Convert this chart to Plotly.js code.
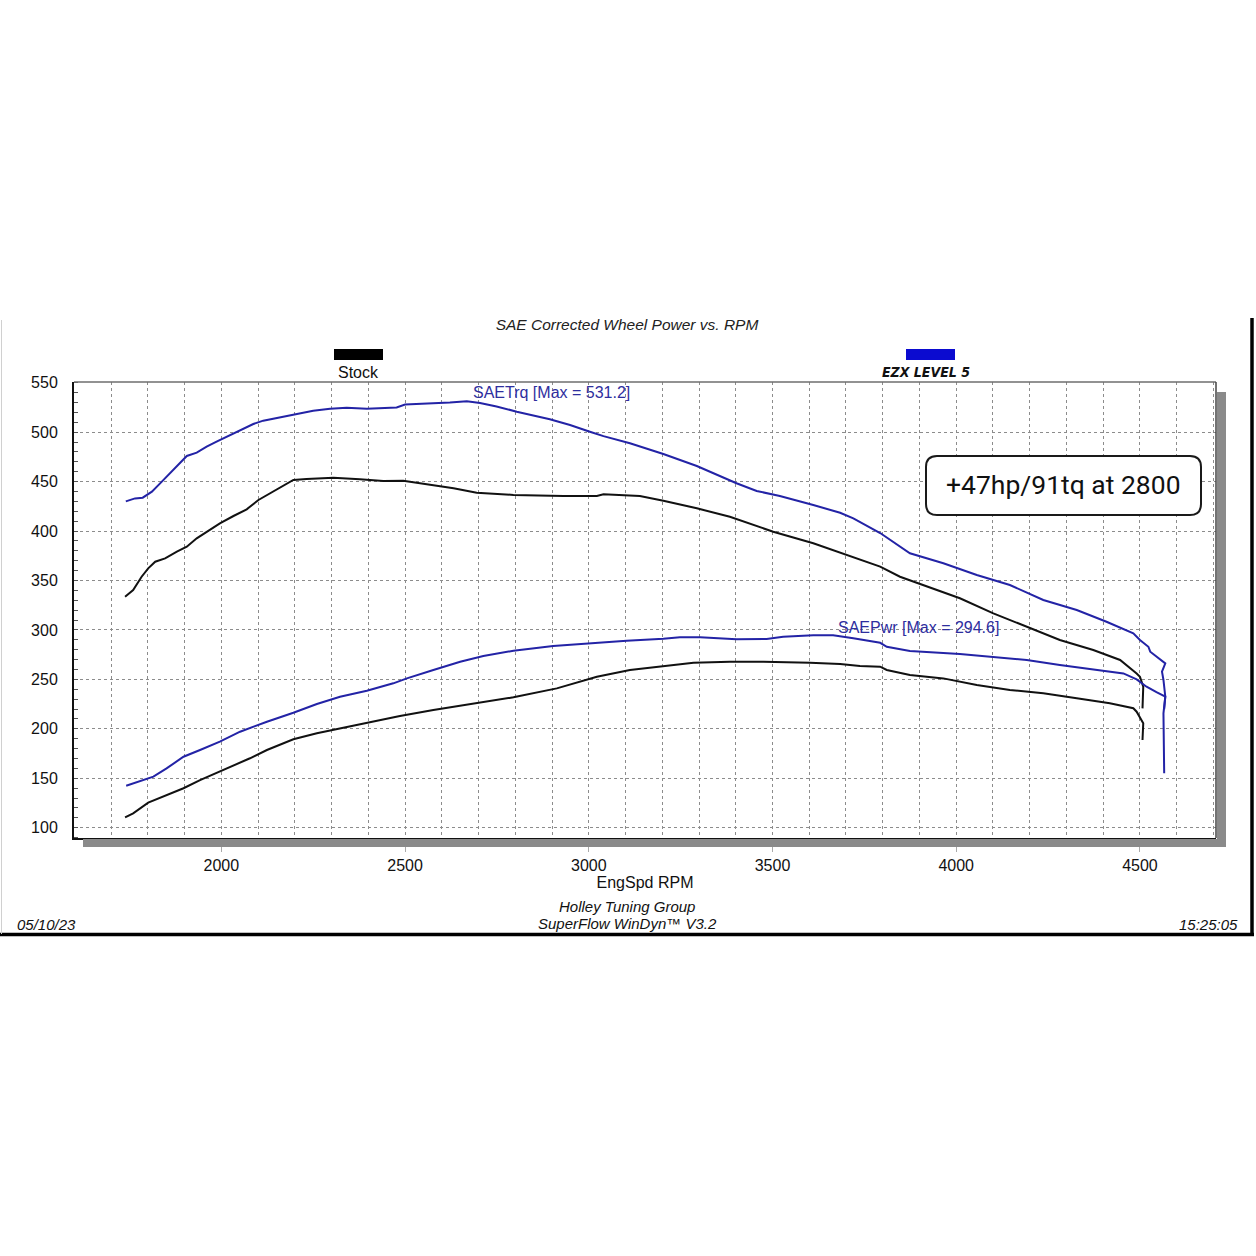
<!DOCTYPE html>
<html>
<head>
<meta charset="utf-8">
<script src="https://cdn.plot.ly/plotly-3.0.1.min.js"></script>
<style>
html,body{margin:0;padding:0;background:#fff;}
#chart{width:1256px;height:1256px;}
</style>
</head>
<body>
<div id="chart"></div>
<script>
// ---------------- DATA ----------------
const stockTqRpm = [1738,1760,1783,1801,1820,1847,1879,1906,1933,1960,1996,2033,2069,2101,2133,2160,2196,2232,2305,2377,2441,2495,2577,2632,2695,2795,2931,3022,3040,3139,3203,3294,3384,3502,3611,3702,3793,3847,3920,4010,4101,4192,4282,4373,4446,4491,4500,4509,4507];
const stockTq    = [333.6,340.4,353.8,362.3,369,372.4,379.1,384.2,392.6,399.3,407.8,415.2,422,431.4,438.2,443.2,451.6,452.6,453.9,452.3,450.6,450.9,446.5,443.2,438.8,436.5,435.4,435.4,437.1,435.4,430.7,423,414.5,399.3,387.6,375.8,364,353.8,343.7,332,316.8,303.3,289.8,279.7,269.6,256,252.7,242.6,220.7];

const stockHpRpm = [1738,1760,1801,1851,1897,1942,1987,2033,2078,2124,2169,2196,2260,2323,2396,2486,2577,2668,2758,2795,2913,3022,3112,3203,3285,3384,3475,3602,3684,3738,3793,3811,3874,3965,4056,4146,4237,4328,4418,4482,4491,4509,4507];
const stockHp    = [110.5,114.6,125.3,133,139.9,148.2,155.6,162.4,170.2,178.6,185.3,189.4,195.5,200.5,205.6,213,219,224.1,229.8,231.9,240.9,252.7,259.5,263.5,266.9,267.9,267.9,266.9,265.5,263.5,262.8,259.5,254.4,251,244.3,239.3,235.9,230.9,225.8,220.8,217.3,205.6,188.7];

const ezxTqRpm = [1740,1765,1786,1811,1838,1860,1888,1906,1933,1960,1987,2015,2051,2087,2114,2160,2205,2250,2296,2341,2396,2441,2477,2500,2541,2577,2622,2668,2704,2749,2804,2894,2949,3003,3040,3112,3203,3294,3339,3402,3457,3520,3611,3684,3720,3793,3874,3965,4056,4146,4237,4328,4409,4482,4500,4523,4528,4555,4569,4560,4564,4569,4564,4566];
const ezxTq    = [430,433,433.7,439.8,450,458.4,470,475.9,479.2,485.3,490.3,495.4,502.2,508.2,511.6,515,518,521.7,523.7,524.7,523.7,524,525,528,528.5,529,530,531.2,529.5,526,520.7,513,507.2,500.4,496,488.7,477.9,465.8,458.4,448.3,440.5,435.4,426.3,418.5,412.9,398,377.5,367.4,355.5,345.4,330.3,320.1,308.3,296.6,289.8,283,278,269.6,266.2,257.8,249.4,232.5,215.7,155];

const ezxHpRpm = [1741,1788,1815,1851,1897,1942,1996,2051,2124,2196,2260,2323,2396,2468,2505,2577,2650,2713,2795,2903,3003,3103,3203,3248,3303,3402,3484,3529,3611,3665,3720,3793,3811,3874,4010,4101,4192,4282,4373,4455,4491,4518,4545,4569,4566];
const ezxHp    = [142.5,148.2,151.6,160,171.8,178.6,187,197.1,207.2,216.3,225.1,232.5,238.5,246,251,259.5,267.9,273.6,279,283.7,286.5,289.1,291.1,292.5,292.5,290.5,290.8,293.2,294.5,294.6,291.5,287,283,278.7,275.7,273,269.6,264.5,260.2,256,250,242.6,237,232.5,220];

const xTickVals = [2000,2500,3000,3500,4000,4500];
const yTickVals = [100,150,200,250,300,350,400,450,500,550];
const seriesNames = ["Stock","EZX LEVEL 5"];
const trqLabel = "SAETrq [Max = 531.2]";
const pwrLabel = "SAEPwr [Max = 294.6]";
const gainLabel = "+47hp/91tq at 2800";

// ---------------- LAYOUT HELPERS (pixel -> paper) ----------------
const W = 1256, H = 1256;
const L = 74, R = 1216, T = 382, B = 838;
const px = v => (v - L) / (R - L);
const py = v => (B - v) / (B - T);

const blackC = '#111111';
const blueC = '#2323a6';
const textBlue = '#2e2e9e';

const traces = [
  {x: stockTqRpm, y: stockTq, name: seriesNames[0]+' SAETrq', mode:'lines', line:{color:blackC, width:2}},
  {x: stockHpRpm, y: stockHp, name: seriesNames[0]+' SAEPwr', mode:'lines', line:{color:blackC, width:2}},
  {x: ezxTqRpm, y: ezxTq, name: seriesNames[1]+' SAETrq', mode:'lines', line:{color:blueC, width:2}},
  {x: ezxHpRpm, y: ezxHp, name: seriesNames[1]+' SAEPwr', mode:'lines', line:{color:blueC, width:2}}
];

// rounded box path
function roundRect(x0,y0,x1,y1,r){
  const X = v => px(v).toFixed(5), Y = v => py(v).toFixed(5);
  return `M ${X(x0+r)},${Y(y0)} L ${X(x1-r)},${Y(y0)} Q ${X(x1)},${Y(y0)} ${X(x1)},${Y(y0+r)} `+
         `L ${X(x1)},${Y(y1-r)} Q ${X(x1)},${Y(y1)} ${X(x1-r)},${Y(y1)} `+
         `L ${X(x0+r)},${Y(y1)} Q ${X(x0)},${Y(y1)} ${X(x0)},${Y(y1-r)} `+
         `L ${X(x0)},${Y(y0+r)} Q ${X(x0)},${Y(y0)} ${X(x0+r)},${Y(y0)} Z`;
}

const shapes = [
  // drop shadow
  {type:'rect', xref:'paper', yref:'paper', x0:px(83), x1:px(1226), y0:py(847), y1:py(839), fillcolor:'#8a8a8a', line:{width:0}},
  {type:'rect', xref:'paper', yref:'paper', x0:px(1217), x1:px(1226), y0:py(847), y1:py(392), fillcolor:'#8a8a8a', line:{width:0}},
  // top & right plot border
  {type:'line', xref:'paper', yref:'paper', x0:0, x1:1, y0:1, y1:1, line:{color:'#6e6e6e', width:1.5}},
  {type:'line', xref:'paper', yref:'paper', x0:1, x1:1, y0:0, y1:1, line:{color:'#444', width:1.5}},
  // outer frame
  {type:'line', xref:'paper', yref:'paper', x0:px(1252), x1:px(1252), y0:py(318), y1:py(936), line:{color:'#000', width:3.5}},
  {type:'line', xref:'paper', yref:'paper', x0:px(0), x1:px(1254), y0:py(934.5), y1:py(934.5), line:{color:'#000', width:3.5}},
  {type:'line', xref:'paper', yref:'paper', x0:px(1.5), x1:px(1.5), y0:py(320), y1:py(934), line:{color:'#d0d0d0', width:1}},
  // legend swatches
  {type:'rect', xref:'paper', yref:'paper', x0:px(334), x1:px(383), y0:py(360), y1:py(349), fillcolor:'#000', line:{width:0}},
  {type:'rect', xref:'paper', yref:'paper', x0:px(906), x1:px(955), y0:py(360), y1:py(349), fillcolor:'#0b0bd0', line:{width:0}},
  // rounded box
  {type:'path', xref:'paper', yref:'paper', path: roundRect(926,456,1201,515,11), fillcolor:'#ffffff', line:{color:'#1a1a1a', width:2}}
];

const baseFont = 'Liberation Sans, Arial, sans-serif';
const annotations = [
  {xref:'paper', yref:'paper', x:px(358.5), y:py(372), text:seriesNames[0], showarrow:false, xanchor:'center', yanchor:'middle', font:{family:baseFont, size:16, color:'#111'}},
  {xref:'paper', yref:'paper', x:px(926), y:py(372), text:'<b><i>'+seriesNames[1]+'</i></b>', showarrow:false, xanchor:'center', yanchor:'middle', font:{family:'DejaVu Sans Condensed, Liberation Sans Narrow, sans-serif', size:14, color:'#111'}},
  {xref:'paper', yref:'paper', x:px(471), y:py(392), text:trqLabel, showarrow:false, xanchor:'left', yanchor:'middle', font:{family:baseFont, size:16, color:textBlue}},
  {xref:'paper', yref:'paper', x:px(836), y:py(627), text:pwrLabel, showarrow:false, xanchor:'left', yanchor:'middle', font:{family:baseFont, size:16, color:textBlue}},
  {xref:'paper', yref:'paper', x:px(1063.5), y:py(484), text:gainLabel, showarrow:false, xanchor:'center', yanchor:'middle', font:{family:'Roboto, sans-serif', size:26.5, color:'#111'}},
  {xref:'paper', yref:'paper', x:px(627), y:py(906.5), text:'<i>Holley Tuning Group</i>', showarrow:false, xanchor:'center', yanchor:'middle', font:{family:baseFont, size:15, color:'#111'}},
  {xref:'paper', yref:'paper', x:px(627), y:py(923.5), text:'<i>SuperFlow WinDyn\u2122 V3.2</i>', showarrow:false, xanchor:'center', yanchor:'middle', font:{family:baseFont, size:15, color:'#111'}},
  {xref:'paper', yref:'paper', x:px(15), y:py(924), text:'<i>05/10/23</i>', showarrow:false, xanchor:'left', yanchor:'middle', font:{family:baseFont, size:15, color:'#111'}},
  {xref:'paper', yref:'paper', x:px(1240), y:py(924), text:'<i>15:25:05</i>', showarrow:false, xanchor:'right', yanchor:'middle', font:{family:baseFont, size:15, color:'#111'}}
];

const layout = {
  width: W, height: H,
  paper_bgcolor:'#ffffff', plot_bgcolor:'#ffffff',
  margin:{l:L, r:W-R, t:T, b:H-B, pad:0},
  showlegend:false,
  font:{family:baseFont, size:16, color:'#111'},
  title:{text:'<i>SAE Corrected Wheel Power vs. RPM</i>', xref:'container', yref:'container', x:627/W, y:1-325/H, xanchor:'center', yanchor:'middle', font:{family:baseFont, size:15.5, color:'#222'}},
  xaxis:{
    range:[1599, 4707], tickmode:'array', tickvals:xTickVals,
    showgrid:true, gridcolor:'#8c8c8c', griddash:'dot', gridwidth:1,
    minor:{dtick:100, tick0:1600, showgrid:true, gridcolor:'#8c8c8c', griddash:'dot', gridwidth:1, ticks:''},
    ticks:'outside', ticklen:12, tickcolor:'#aaaaaa', tickwidth:1,
    showline:true, linecolor:'#111', linewidth:2, zeroline:false,
    tickfont:{family:baseFont, size:16, color:'#111'},
    title:{text:'EngSpd RPM', standoff:4, font:{family:baseFont, size:16, color:'#111'}}
  },
  yaxis:{
    range:[89.6, 550.7], tickmode:'array', tickvals:yTickVals,
    showgrid:true, gridcolor:'#8c8c8c', griddash:'dot', gridwidth:1,
    minor:{dtick:10, tick0:0, ticks:'inside', ticklen:4, tickcolor:'#555', showgrid:false},
    ticks:'', ticklabelstandoff:11,
    showline:true, linecolor:'#111', linewidth:2, zeroline:false,
    tickfont:{family:baseFont, size:16, color:'#111'}
  },
  shapes: shapes,
  annotations: annotations
};

Plotly.newPlot('chart', traces, layout, {displayModeBar:false, staticPlot:true});
</script>
</body>
</html>
